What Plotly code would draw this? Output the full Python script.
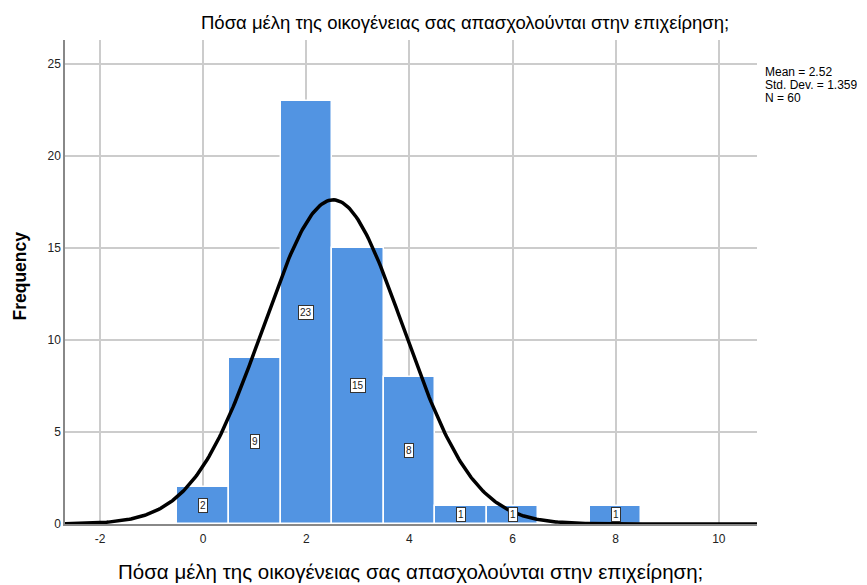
import numpy as np
import plotly.graph_objects as go

# Data
values = [0, 1, 2, 3, 4, 5, 6, 8]
counts = [2, 9, 23, 15, 8, 1, 1, 1]
mean = 2.52
std_dev = 1.359
n_total = 60
title_text = "Πόσα μέλη της οικογένειας σας απασχολούνται στην επιχείρηση;"
x_tickvals = [-2, 0, 2, 4, 6, 8, 10]
x_ticktext = ["-2", "0", "2", "4", "6", "8", "10"]

x_range = [-2.68, 10.74]
y_range = [0, 26.3]

# Fitted normal curve (as drawn by SPSS: N * binwidth * pdf)
xs = np.linspace(x_range[0], x_range[1], 400)
ys = n_total * 1.0 / (std_dev * np.sqrt(2 * np.pi)) * np.exp(-0.5 * ((xs - mean) / std_dev) ** 2)

font_family = "Liberation Sans, Arial, sans-serif"

fig = go.Figure()
fig.add_trace(go.Bar(
    x=values, y=counts, width=1.0,
    marker=dict(color="#5294E2", line=dict(color="white", width=1.5)),
    hoverinfo="x+y", showlegend=False,
))
fig.add_trace(go.Scatter(
    x=xs, y=ys, mode="lines",
    line=dict(color="black", width=3.5),
    hoverinfo="skip", showlegend=False,
))

annotations = []
for v, c in zip(values, counts):
    annotations.append(dict(
        x=v, y=c / 2, xref="x", yref="y", text=str(c), showarrow=False,
        font=dict(family=font_family, size=10, color="#222"),
        bgcolor="white", bordercolor="#333", borderwidth=1, borderpad=1,
    ))

# chart title
annotations.append(dict(
    x=(465 - 65) / 692, y=1.0, xref="paper", yref="paper", yshift=18,
    text=title_text, showarrow=False, xanchor="center", yanchor="middle",
    font=dict(family=font_family, size=18.5, color="black"),
))
# x axis title
annotations.append(dict(
    x=(410.5 - 65) / 692, y=0.0, xref="paper", yref="paper", yshift=-47,
    text=title_text, showarrow=False, xanchor="center", yanchor="middle",
    font=dict(family=font_family, size=20.5, color="black"),
))
# y axis title
annotations.append(dict(
    x=0.0, y=0.5, xref="paper", yref="paper", xshift=-45.5, yshift=6,
    text="<b>Frequency</b>", showarrow=False, textangle=-90,
    xanchor="center", yanchor="middle",
    font=dict(family=font_family, size=17.5, color="black"),
))
# statistics box
stats_lines = [f"Mean = {mean:.2f}", f"Std. Dev. = {std_dev:.3f}", f"N = {n_total}"]
for i, line in enumerate(stats_lines):
    annotations.append(dict(
        x=1.0, y=1.0, xref="paper", yref="paper", xshift=6, yshift=-31.5 - 13 * i,
        text=line, showarrow=False, xanchor="left", yanchor="middle", align="left",
        height=13, valign="middle",
        font=dict(family=font_family, size=12, color="black"),
    ))

fig.update_layout(
    width=859, height=577,
    margin=dict(l=57, r=110, t=32, b=61, autoexpand=False),
    plot_bgcolor="white", paper_bgcolor="white",
    bargap=0,
    annotations=annotations,
    font=dict(family=font_family),
    xaxis=dict(
        range=x_range, tickmode="array", tickvals=x_tickvals, ticktext=x_ticktext,
        showgrid=True, gridcolor="#cccccc", gridwidth=1.5,
        showline=True, linecolor="#888888", linewidth=1.5,
        zeroline=False, ticks="", ticklabelstandoff=3, automargin=False,
        tickfont=dict(family=font_family, size=12, color="#222"),
    ),
    yaxis=dict(
        range=y_range, tickmode="linear", tick0=0, dtick=5,
        showgrid=True, gridcolor="#cccccc", gridwidth=1.5,
        showline=True, linecolor="#888888", linewidth=1.5,
        zeroline=False, ticks="", automargin=False,
        tickfont=dict(family=font_family, size=12, color="#222"),
    ),
)

fig.write_html("out.html")
